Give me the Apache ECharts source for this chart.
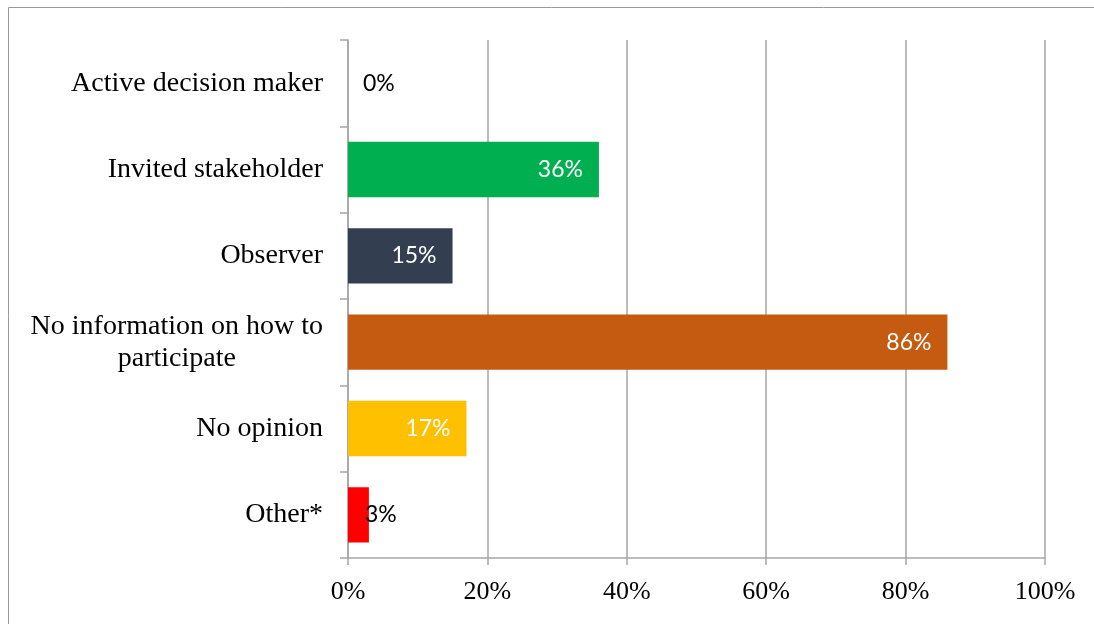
<!DOCTYPE html>
<html>
<head>
<meta charset="utf-8">
<script src="https://cdn.jsdelivr.net/npm/echarts@6/dist/echarts.min.js"></script>
<style>
  html, body { margin: 0; padding: 0; background: #ffffff; }
  #chart { width: 1094px; height: 624px; }
</style>
</head>
<body>
<div id="chart"></div>
<script>
// Participation roles (share of respondents, %)
const categories = [
  'Active decision maker',
  'Invited stakeholder',
  'Observer',
  'No information on how to participate',
  'No opinion',
  'Other*'
];
const values = [0, 36, 15, 86, 17, 3];
const barColors = ['#00B050', '#00B050', '#333F50', '#C55A11', '#FFC000', '#FF0000'];
const xTicks = [0, 20, 40, 60, 80, 100];

const chart = echarts.init(document.getElementById('chart'), null, { renderer: 'canvas' });

const labelFor = (v) => {
  if (v === 0) {
    return { show: true, position: 'right', distance: 15, color: '#000000' };
  }
  if (v < 5) {
    return { show: true, position: 'right', distance: -4, color: '#000000' };
  }
  return { show: true, position: 'insideRight', distance: 16, color: '#ffffff' };
};

const option = {
  animation: false,
  backgroundColor: '#ffffff',
  graphic: [{
    type: 'rect',
    shape: { x: 8.5, y: 7.5, width: 1200, height: 800 },
    style: { fill: 'none', stroke: '#9a9a9a', lineWidth: 1 },
    silent: true,
    z: -1
  }],
  grid: { left: 348, right: 49, top: 40, bottom: 66 },
  xAxis: {
    type: 'value',
    min: xTicks[0],
    max: xTicks[xTicks.length - 1],
    interval: xTicks[1] - xTicks[0],
    axisLine: { show: true, lineStyle: { color: '#a6a6a6', width: 1.5 } },
    axisTick: { show: true, length: 7, lineStyle: { color: '#a6a6a6', width: 1.5 } },
    splitLine: { show: true, lineStyle: { color: '#a6a6a6', width: 1.5 } },
    axisLabel: {
      margin: 21,
      fontFamily: 'Liberation Serif',
      fontSize: 26,
      color: '#000000',
      formatter: (v) => v + '%'
    }
  },
  yAxis: {
    type: 'category',
    inverse: true,
    data: categories,
    axisLine: { show: true, lineStyle: { color: '#a6a6a6', width: 1.5 } },
    axisTick: { show: true, length: 8, lineStyle: { color: '#a6a6a6', width: 1.5 } },
    splitLine: { show: false },
    axisLabel: {
      margin: 25,
      fontFamily: 'Liberation Serif',
      fontSize: 28,
      color: '#000000',
      lineHeight: 32,
      formatter: (name) => {
        if (name === 'No information on how to participate') {
          return '{c|No information on how to}\n{c|participate}';
        }
        return name;
      },
      rich: {
        c: {
          align: 'center',
          fontFamily: 'Liberation Serif',
          fontSize: 28,
          color: '#000000',
          lineHeight: 32
        }
      }
    }
  },
  series: [{
    type: 'bar',
    barCategoryGap: '36%',
    data: values.map((v, i) => ({
      value: v,
      itemStyle: { color: barColors[i] },
      label: labelFor(v)
    })),
    label: {
      show: true,
      fontFamily: 'Lato',
      fontSize: 23,
      formatter: (p) => p.value + '%'
    }
  }]
};

chart.setOption(option);
</script>
</body>
</html>
